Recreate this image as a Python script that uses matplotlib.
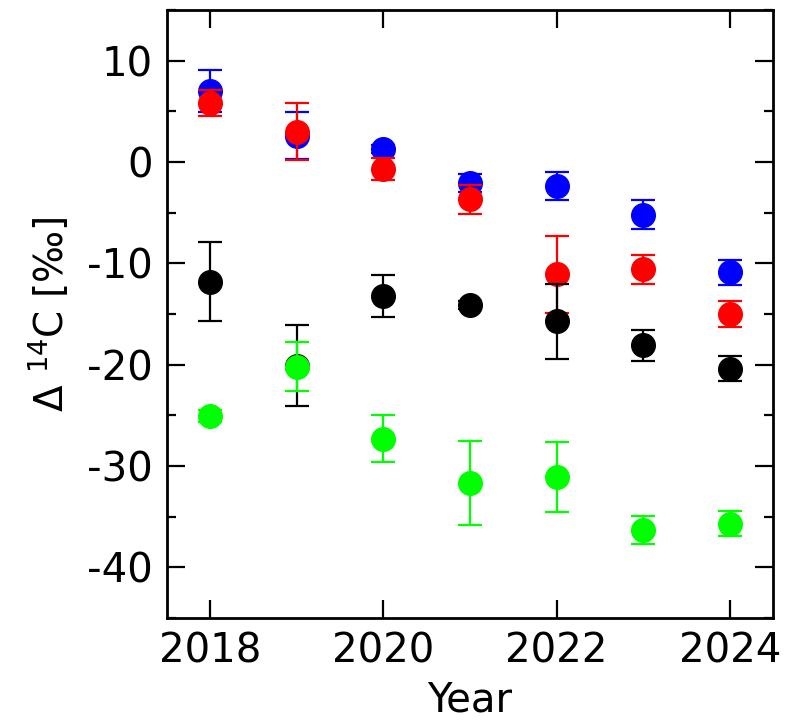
import matplotlib
matplotlib.use("Agg")
import matplotlib.pyplot as plt
from matplotlib.ticker import MultipleLocator

plt.rcParams['font.family'] = ['DejaVu Sans']
plt.rcParams['axes.unicode_minus'] = False

years = [2018, 2019, 2020, 2021, 2022, 2023, 2024]

blue_vals = [7.0, 2.6, 1.3, -2.1, -2.4, -5.2, -10.9]
blue_err = [2.1, 2.3, 0.4, 0.9, 1.4, 1.4, 1.2]

red_vals = [5.8, 3.0, -0.7, -3.7, -11.1, -10.6, -15.0]
red_err = [1.3, 2.8, 1.1, 1.45, 3.8, 1.4, 1.3]

black_vals = [-11.8, -20.1, -13.2, -14.1, -15.7, -18.1, -20.4]
black_err = [3.9, 4.0, 2.05, 0.4, 3.7, 1.5, 1.25]

green_vals = [-25.1, -20.2, -27.3, -31.7, -31.1, -36.3, -35.7]
green_err = [0.6, 2.4, 2.35, 4.15, 3.45, 1.37, 1.25]

series = [
    (blue_vals, blue_err, '#0000ff'),
    (red_vals, red_err, '#ff0000'),
    (black_vals, black_err, '#000000'),
    (green_vals, green_err, '#00ff00'),
]

fig = plt.figure(figsize=(7.86, 7.23), dpi=100)
ax = fig.add_axes([0.2125, 0.1452, 0.771, 0.841])

for z, (vals, errs, col) in enumerate(series):
    ax.errorbar(years, vals, yerr=errs, fmt='o', color=col, ecolor=col,
                markersize=17, markeredgecolor=col, elinewidth=1.6,
                capsize=8.6, capthick=1.6, zorder=3 + z)

ax.set_xlim(2017.5, 2024.5)
ax.set_ylim(-45, 15)
ax.set_xticks([2018, 2020, 2022, 2024])
ax.yaxis.set_major_locator(MultipleLocator(10))
ax.yaxis.set_minor_locator(MultipleLocator(5))
ax.set_yticks([-40, -30, -20, -10, 0, 10])

ax.tick_params(axis='both', which='major', direction='in', length=13,
               width=1.6, labelsize=29, top=True, right=True, pad=10)
ax.tick_params(axis='y', which='minor', direction='in', length=6.5,
               width=1.6, left=True, right=True)
for s in ax.spines.values():
    s.set_linewidth(2)

ax.set_xlabel('Year', fontsize=29, labelpad=6)
ax.set_ylabel('Δ $^{14}$C [‰]', fontsize=28, labelpad=12)

fig.savefig('out.png', dpi=100)
